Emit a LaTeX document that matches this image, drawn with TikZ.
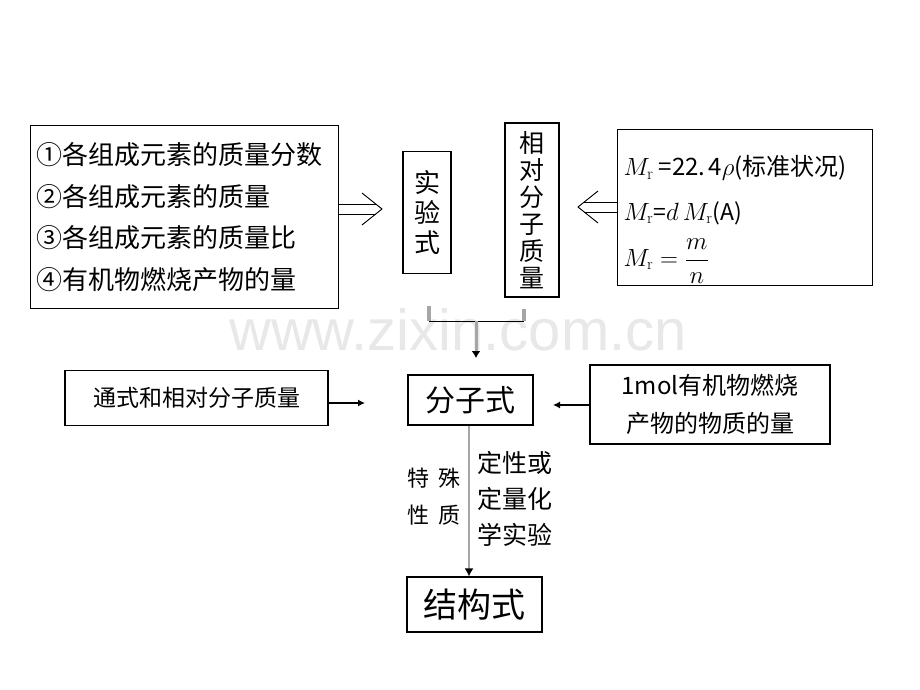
\documentclass[tikz,border=0pt]{standalone}
\usepackage{fontspec}
\newfontfamily\cjk{Noto Sans CJK SC}
\newfontfamily\wmfont{Liberation Sans}
\usetikzlibrary{arrows.meta}

\begin{document}
\begin{tikzpicture}[x=1pt,y=-1pt,
  box/.style={draw, line width=1.1pt, inner sep=0pt},
  dbl/.style={line width=0.9pt},
  arr/.style={line width=1.2pt, -{Latex[length=7pt,width=7pt]}}]
\useasboundingbox (0,0) rectangle (920,690);

\node[text=gray!18, font=\wmfont\fontsize{58}{60}\selectfont] (wm) at (458,330) {www.zixin.com.cn}; % watermark

% top row
\node[box, anchor=north west, minimum width=308pt, minimum height=183pt, text width=296pt, align=left, font=\cjk\fontsize{26}{41.5}\selectfont] (data) at (30,125) {①各组成元素的质量分数\\②各组成元素的质量\\③各组成元素的质量比\\④有机物燃烧产物的量};
\node[box, minimum width=48pt, minimum height=122pt, align=center, font=\cjk\fontsize{26}{30}\selectfont] (sy) at (427,212.5) {实\\验\\式};
\node[box, minimum width=54pt, minimum height=174pt, align=center, font=\cjk\fontsize{25}{27}\selectfont] (xd) at (532,210) {相\\对\\分\\子\\质\\量};
\node[box, anchor=north west, minimum width=255pt, minimum height=156pt] (mrbox) at (617,129) {};
\node[anchor=west, font=\cjk\fontsize{24}{26}\selectfont] (mr1) at (620,168) {$M_{\mathrm r}$ =22.\hspace{3pt}4$\rho$(标准状况)};
\node[anchor=west, font=\cjk\fontsize{23}{26}\selectfont] (mr2) at (620,213) {$M_{\mathrm r}$=$d\,M_{\mathrm r}$(A)};
\node[anchor=west, font=\fontsize{23}{26}\selectfont] (mr3) at (620,261) {$M_{\mathrm r}=\displaystyle\frac{m}{n}$};

% double arrows
\coordinate (ra) at (382,209);
\coordinate (la) at (578,207);
\draw[dbl] ([shift={(0,-5)}]data.east |- ra) -- ([shift={(-6,-5)}]ra);
\draw[dbl] ([shift={(0,5)}]data.east |- ra) -- ([shift={(-6,5)}]ra);
\draw[dbl] ([shift={(-20,-16)}]ra) -- (ra) -- ([shift={(-20,16)}]ra); % into sy
\draw[dbl] ([shift={(0,-5)}]mrbox.west |- la) -- ([shift={(6,-5)}]la);
\draw[dbl] ([shift={(0,5)}]mrbox.west |- la) -- ([shift={(6,5)}]la);
\draw[dbl] ([shift={(20,-16)}]la) -- (la) -- ([shift={(20,16)}]la); % into xd

% joining the two
\coordinate (tl) at (429,306);
\coordinate (tr) at (524,309);
\coordinate (tlb) at (429,321);
\coordinate (trb) at (524,321);
\coordinate (tm) at (476,321);
\coordinate (tend) at (476,358);
\draw[line width=3.5pt, gray!70] (tl) -- (tlb);
\draw[line width=3.5pt, gray!70] (tr) -- (trb);
\draw[line width=1pt] (tlb) -- (trb);
\draw[line width=3pt, gray!70, -{Latex[black,length=7pt,width=9pt]}] (tm) -- (tend);

% middle row
\node[box, minimum width=263pt, minimum height=55pt, font=\cjk\fontsize{23}{25}\selectfont] (tsh) at (196.5,398) {通式和相对分子质量};
\node[box, minimum width=125pt, minimum height=50pt, font=\cjk\fontsize{30}{32}\selectfont] (fz) at (470.5,400) {分子式};
\node[box, minimum width=240pt, minimum height=79pt, align=center, font=\cjk\fontsize{24}{38}\selectfont] (mol) at (710,404.5) {1mol有机物燃烧\\产物的物质的量};

\coordinate (tshend) at (365,403);
\coordinate (molend) at (553,405);
\draw[arr] (tsh.east |- tshend) -- (tshend);
\draw[arr] (mol.west |- molend) -- (molend);

% down to the structure
\node[box, minimum width=135pt, minimum height=55pt, font=\cjk\fontsize{34}{36}\selectfont] (jg) at (474.5,604.5) {结构式};
\coordinate (vx) at (469,0);
\draw[line width=2pt, gray!70, -{Latex[black,length=8pt,width=9pt]}] (fz.south -| vx) -- (jg.north -| vx);
\node[align=center, font=\cjk\fontsize{22}{37}\selectfont] (tsxz) at (434,497) {特\hspace{10pt}殊\\性\hspace{10pt}质};
\node[align=left, font=\cjk\fontsize{25}{36}\selectfont] (dxsy) at (515,499) {定性或\\定量化\\学实验};

\end{tikzpicture}
\end{document}
